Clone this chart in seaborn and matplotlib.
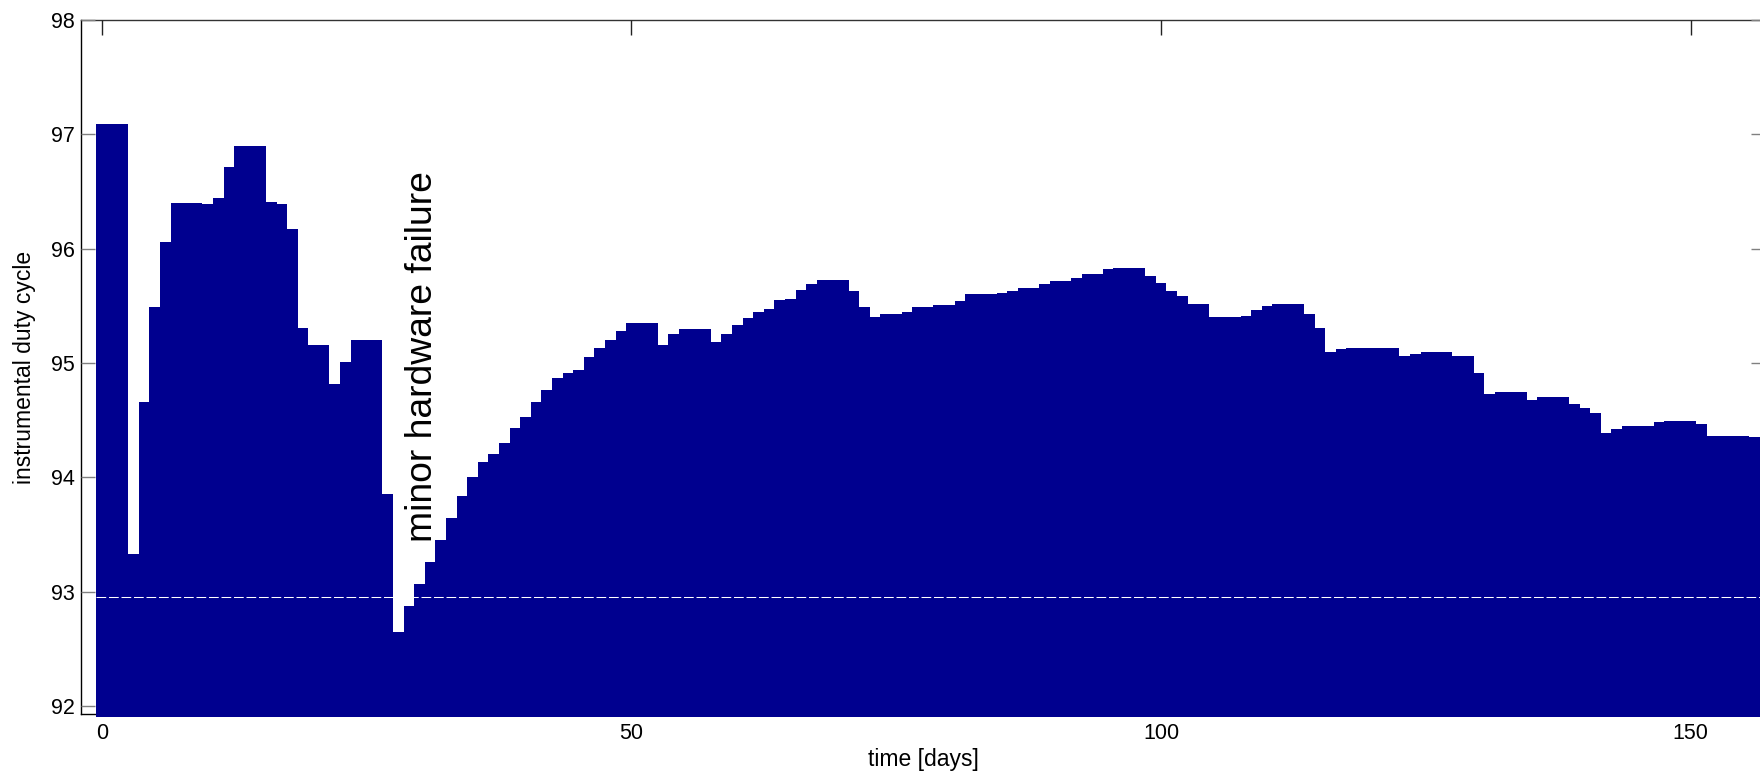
import numpy as np
import pandas as pd
import matplotlib
matplotlib.use("Agg")
import matplotlib.pyplot as plt
import seaborn as sns

# daily instrumental duty cycle (%), one value per day
days = list(range(157))
duty_days_000_019 = [97.09, 97.09, 97.09, 93.33, 94.66, 95.49, 96.06, 96.40, 96.40, 96.40,
                     96.39, 96.44, 96.71, 96.90, 96.90, 96.90, 96.41, 96.39, 96.17, 95.31]
duty_days_020_039 = [95.16, 95.16, 94.82, 95.01, 95.20, 95.20, 95.20, 93.85, 92.65, 92.87,
                     93.07, 93.26, 93.45, 93.64, 93.84, 94.00, 94.13, 94.20, 94.30, 94.43]
duty_days_040_059 = [94.53, 94.66, 94.76, 94.87, 94.91, 94.94, 95.05, 95.13, 95.20, 95.28,
                     95.35, 95.35, 95.35, 95.16, 95.25, 95.30, 95.30, 95.30, 95.18, 95.25]
duty_days_060_079 = [95.33, 95.39, 95.45, 95.47, 95.55, 95.56, 95.64, 95.69, 95.73, 95.73,
                     95.73, 95.63, 95.49, 95.40, 95.43, 95.43, 95.45, 95.49, 95.49, 95.51]
duty_days_080_099 = [95.51, 95.54, 95.60, 95.60, 95.60, 95.61, 95.63, 95.66, 95.66, 95.69,
                     95.72, 95.72, 95.74, 95.78, 95.78, 95.82, 95.83, 95.83, 95.83, 95.76]
duty_days_100_119 = [95.70, 95.63, 95.59, 95.52, 95.52, 95.40, 95.40, 95.40, 95.41, 95.46,
                     95.50, 95.52, 95.52, 95.52, 95.43, 95.31, 95.10, 95.12, 95.13, 95.13]
duty_days_120_139 = [95.13, 95.13, 95.13, 95.06, 95.08, 95.10, 95.10, 95.10, 95.06, 95.06,
                     94.91, 94.73, 94.75, 94.75, 94.75, 94.68, 94.70, 94.70, 94.70, 94.64]
duty_days_140_156 = [94.61, 94.56, 94.39, 94.42, 94.45, 94.45, 94.45, 94.48, 94.49, 94.49,
                     94.49, 94.47, 94.36, 94.36, 94.36, 94.36, 94.35]

duty = (duty_days_000_019 + duty_days_020_039 + duty_days_040_059 + duty_days_060_079
        + duty_days_080_099 + duty_days_100_119 + duty_days_120_139 + duty_days_140_156)

reference_level = 92.956          # dashed reference line
x_ticks = [0, 50, 100, 150]
y_ticks = [92, 93, 94, 95, 96, 97, 98]
annotation = "minor hardware failure"
annotation_day, annotation_start = 31.2, 93.43

BAR = "#00008F"

sns.set_theme(style="white")
plt.rcParams["font.family"] = ["Liberation Sans", "DejaVu Sans"]
plt.rcParams["lines.scale_dashes"] = False

W, H = 1760, 773
fig = plt.figure(figsize=(W / 100, H / 100), dpi=100)
px_per_day = 10.594
x_lo, x_hi = -1.954, 157.0
left_px, top_px, bottom_px = 81.0, 20.0, 714.3
ax = fig.add_axes([left_px / W, (H - bottom_px) / H,
                   (x_hi - x_lo) * px_per_day / W, (bottom_px - top_px) / H])

df = pd.DataFrame({"day": days, "duty": duty})
sns.barplot(data=df, x="day", y="duty", native_scale=True, width=1.0,
            color=BAR, saturation=1, errorbar=None, ax=ax,
            edgecolor=BAR, linewidth=0)

# bars rest slightly below the lower axis edge; no antialiasing so
# neighbouring bars join without seams
base = 91.905
for p in ax.patches:
    h = p.get_height()
    p.set_y(base)
    p.set_height(h - base)
    p.set_clip_on(False)
    p.set_antialiased(False)

ax.hlines(reference_level, -0.5, x_hi, colors="white", linewidth=0.75,
          linestyles=[(0, (7.0, 2.0))], zorder=3)

ax.text(annotation_day, annotation_start, annotation, rotation=90,
        rotation_mode="anchor", ha="left", va="baseline", fontsize=26.8,
        color="black", zorder=4)

ax.set_xlim(x_lo, x_hi)
ax.set_ylim(91.927, 98)
ax.set_xticks(x_ticks)
ax.set_xticklabels([str(t) for t in x_ticks])
ax.set_yticks(y_ticks)
ax.set_yticklabels([str(t) for t in y_ticks])

ax.set_axisbelow(True)
for name, sp in ax.spines.items():
    sp.set_visible(True)
    sp.set_zorder(0.5)
    sp.set_linewidth(1.0)
ax.spines["left"].set_color("black")
ax.spines["top"].set_color("#333333")
ax.spines["bottom"].set_color("black")
ax.spines["right"].set_color("#333333")

ax.tick_params(axis="x", which="major", direction="in", top=True, bottom=True,
               length=10.8, width=1.0, color="#222222", labelsize=15.5,
               pad=6, labelcolor="black")
ax.tick_params(axis="y", which="major", direction="in", left=True, right=True,
               length=10.0, width=1.0, color="#808080", labelsize=15.5,
               pad=4.3, labelcolor="black")

ax.set_xlabel("time [days]", fontsize=16.5, labelpad=3, color="black")
ax.set_ylabel("instrumental duty cycle", fontsize=16.5, labelpad=11, color="black")

fig.savefig("out.png", dpi=100)
